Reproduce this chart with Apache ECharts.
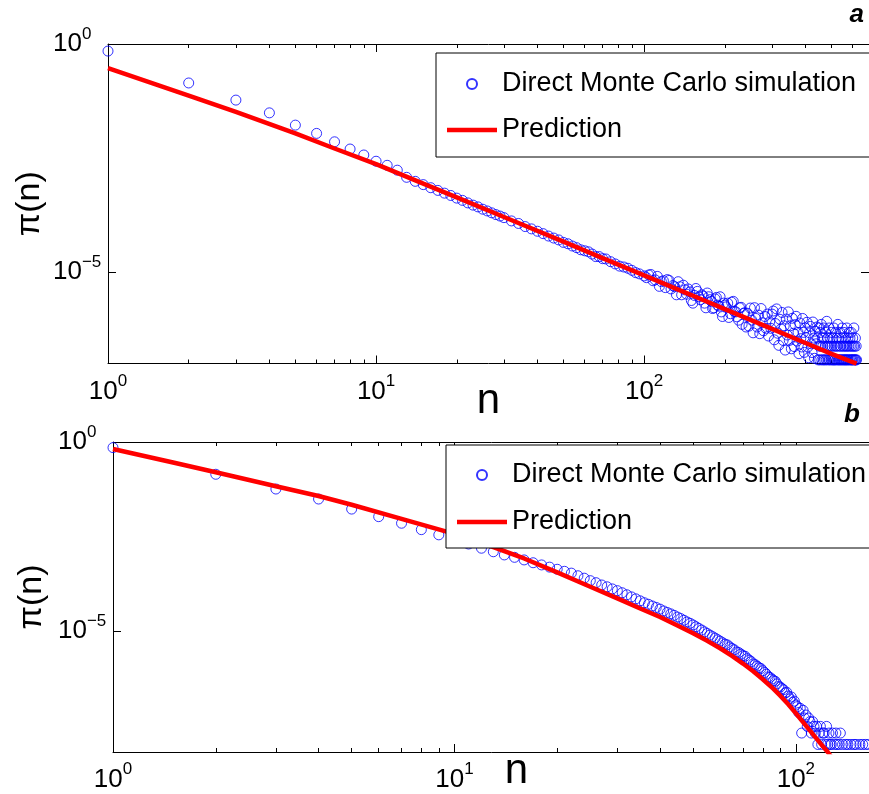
<!DOCTYPE html>
<html>
<head>
<meta charset="utf-8">
<script src="https://cdn.jsdelivr.net/npm/echarts@6/dist/echarts.min.js"></script>
<style>
html, body { margin: 0; background: #fff; }
#main { width: 869px; height: 794px; }
</style>
</head>
<body>
<div id="main"></div>
<script>
// panel a: [n, pi(n)]
var simA = [
  [1,0.70],[2,0.14],[3,0.059],[4,0.031],[5,0.0167],[6,0.011],[7,0.0072],[8,0.0050],[9,0.0037],[10,0.0027],
  [11,0.0022],[12,0.00172],[13,0.0012],[14,9.8e-4],[15,8.3e-4],[16,7.1e-4],[17,6.2e-4],[18,5.4e-4],[19,4.8e-4],[20,4.2e-4],
  [21,3.75e-4],[22,3.3e-4],[23,2.95e-4],[24,2.7e-4],[25,2.4e-4],[26,2.2e-4],[27,2.0e-4],[28,1.83e-4],[29,1.7e-4],[30,1.57e-4],
  [32,1.33e-4],[34,1.17e-4],[36,1.0e-4],[38,8.9e-5],[40,7.9e-5],[42,7.0e-5],[44,6.2e-5],[46,5.6e-5],[48,5.1e-5],[50,4.5e-5],
  [52,4.2e-5],[54,3.75e-5],[56,3.45e-5],[58,3.1e-5],[60,2.95e-5],[62,2.8e-5],[64,2.5e-5],[66,2.2e-5],[68,2.2e-5],[70,1.98e-5],
  [72,1.95e-5],[75,1.7e-5],[78,1.52e-5],[81,1.36e-5],[84,1.3e-5],[87,1.22e-5],[90,1.1e-5],[93,9.8e-6],[96,9.2e-6],[100,8.3e-6],
  [104,8.7e-6],[108,6.5e-6],[112,8.1e-6],[116,6.2e-6],[120,4.6e-6],[124,6.6e-6],[128,5.1e-6],[132,3.2e-6],[136,4.8e-6],[140,5.2e-6],
  [144,3.3e-6],[148,3.7e-6],[152,2.1e-6],[156,4.4e-6],[160,2.9e-6],[164,3.2e-6],[168,2.1e-6],[172,3.5e-6],[176,2.5e-6],[180,1.6e-6],
  [184,2.6e-6],[188,1.9e-6],[192,2.9e-6],[196,1.07e-6],[200,1.9e-6],[205,2.1e-6],[210,1.23e-6],[215,2.3e-6],[220,1.35e-6],[225,8.9e-7],
  [230,1.7e-6],[235,1.26e-6],[240,6.3e-7],
  [102,7.6e-6],[106,8.9e-6],[110,6.8e-6],[114,4.9e-6],[118,6.5e-6],[122,6.9e-6],[126,4.3e-6],[130,4.8e-6],[134,6.2e-6],[138,3.2e-6],
  [142,4.1e-6],[146,4.3e-6],[150,2.4e-6],[154,3.1e-6],[158,3.8e-6],[162,2.5e-6],[166,3.0e-6],[170,1.66e-6],[174,2.9e-6],[178,2.3e-6],
  [182,1.66e-6],[186,2.8e-6],[190,1.8e-6],[194,1.35e-6],[198,2.1e-6],[202,1.74e-6],[207,1.02e-6],[212,2.2e-6],[217,1.38e-6],[222,1.05e-6],
  [227,1.66e-6],[232,7.2e-7],[237,1.29e-6],
  [243,1.26e-6],[246,6.6e-7],[249,1.64e-6],[252,8.9e-7],[255,4.7e-7],[258,1.67e-6],[261,9.7e-7],[264,6.3e-7],[267,1.15e-6],[270,4.5e-7],
  [273,1.6e-6],[276,7.8e-7],[279,5.2e-7],[282,1.07e-6],[285,5.9e-7],[288,1.21e-6],[291,4.0e-7],[294,8.2e-7],[297,5.9e-7],[300,1.21e-6],
  [303,1.41e-6],[306,3.3e-7],[309,7.5e-7],[312,1.57e-6],[315,4.6e-7],[318,2.5e-7],[321,9.3e-7],[324,5.7e-7],[327,1.31e-6],[330,3.2e-7],
  [333,6.7e-7],[336,1.97e-7],[339,9.4e-7],[342,4.2e-7],[345,1.35e-6],[348,3.2e-7],[351,6.7e-7],[354,2.1e-7],[357,9.8e-7],[360,4.6e-7],
  [363,2.35e-7],[366,7.1e-7],[369,1.08e-6],[372,3.1e-7],[375,4.8e-7],[378,1.64e-7],[381,7.7e-7],[384,3.5e-7],[387,2.3e-7],[390,9.7e-7],
  [393,4.8e-7],[396,1.75e-7],[399,6.0e-7],[402,3.7e-7],[405,8.0e-7],[408,2.3e-7],[411,1.34e-7],[414,4.7e-7],[417,6.5e-7],[420,2.7e-7],
  [423,1.74e-7],[426,8.1e-7],[429,3.6e-7],[432,1.3e-7],[435,5.1e-7],[438,2.7e-7],[441,6.3e-7],
  [444,3.6e-7],[446,1.2e-7],[448,6.0e-7],[450,2.4e-7],[452,1.2e-7],[454,4.8e-7],[456,2.4e-7],[458,7.2e-7],[460,1.2e-7],[462,3.6e-7],
  [464,2.4e-7],[466,1.2e-7],[468,6.0e-7],[470,3.6e-7],[472,1.2e-7],[474,2.4e-7],[476,4.8e-7],[478,1.2e-7],[480,8.4e-7],[482,2.4e-7],
  [484,3.6e-7],[486,1.2e-7],[488,2.4e-7],[490,6.0e-7],[492,1.2e-7],[494,3.6e-7],[496,2.4e-7],[498,1.2e-7],[500,4.8e-7],
  [502,2.4e-7],[504,1.2e-7],[506,3.6e-7],[508,1.2e-7],[510,6.0e-7],[512,2.4e-7],[514,1.2e-7],[516,1.2e-7],[518,4.8e-7],[520,2.4e-7],
  [522,3.6e-7],[524,1.2e-7],[526,2.4e-7],[528,7.2e-7],[530,1.2e-7],[532,3.6e-7],[534,1.2e-7],[536,2.4e-7],[538,4.8e-7],[540,1.2e-7],
  [542,2.4e-7],[544,1.2e-7],[546,3.6e-7],[548,6.0e-7],[550,1.2e-7],[552,2.4e-7],[554,1.2e-7],[556,4.8e-7],[558,2.4e-7],[560,1.2e-7],
  [562,3.6e-7],[564,1.2e-7],[566,2.4e-7],[568,1.2e-7],[570,6.0e-7],[572,2.4e-7],[574,1.2e-7],[576,3.6e-7],[578,1.2e-7],[580,2.4e-7],
  [582,4.8e-7],[584,1.2e-7],[586,3.6e-7],[588,2.4e-7],[590,1.2e-7],[592,4.8e-7],[594,1.2e-7],[596,2.4e-7],[598,1.2e-7],[600,3.6e-7],
  [602,1.2e-7],[604,2.4e-7],[606,6.0e-7],[608,1.2e-7],[610,2.4e-7],[612,1.2e-7],[614,3.6e-7],[616,1.2e-7],[618,2.4e-7],[620,1.2e-7]
];
var predA = [
  [1,0.295],[2,0.0741],[3,0.0324],[5,0.011],[7,5.13e-3],[10,2.34e-3],[15,8.7e-4],[20,4.37e-4],[30,1.62e-4],
  [50,4.68e-5],[70,2.04e-5],[100,8.5e-6],[150,3.16e-6],[200,1.55e-6],[300,5.75e-7],[400,2.82e-7],[500,1.62e-7],[620,9.9e-8]
];

// panel b
var simB = [
  [1,0.71],[2,0.14],[3,0.057],[4,0.031],[5,0.0168],[6,0.0106],[7,0.0071],[8,0.0048],[9,0.0035],[10,0.0026],
  [11,0.002],[12,0.00155],[13,0.00125],[14,0.00103],[15,8.9e-4],[16,7.6e-4],[17,6.4e-4],[18,5.6e-4],[19,4.9e-4],[20,4.3e-4],
  [21,3.8e-4],[22,3.4e-4],[23,2.9e-4],[24,2.5e-4],[25,2.15e-4],[26,1.9e-4],[27,1.65e-4],[28,1.48e-4],[29,1.3e-4],[30,1.17e-4],
  [31,1.03e-4],[32,9.1e-5],[33,8.0e-5],[34,7.1e-5],[35,6.3e-5],[36,5.6e-5],[37,5.1e-5],[38,4.6e-5],[39,4.2e-5],[40,3.8e-5],
  [41,3.4e-5],[42,3.1e-5],[43,2.85e-5],[44,2.6e-5],[45,2.35e-5],[46,2.14e-5],[47,1.93e-5],[48,1.74e-5],[49,1.6e-5],[50,1.45e-5],
  [51,1.3e-5],[52,1.17e-5],[53,1.06e-5],[54,9.5e-6],[55,8.6e-6],[56,7.8e-6],[57,7.1e-6],[58,6.5e-6],[59,5.9e-6],[60,5.4e-6],
  [61,4.9e-6],[62,4.5e-6],[63,4.3e-6],[64,3.8e-6],[65,3.45e-6],[66,3.2e-6],[67,2.8e-6],[68,2.7e-6],[69,2.45e-6],[70,2.24e-6],
  [71,2.15e-6],[72,1.86e-6],[73,1.7e-6],[74,1.55e-6],[75,1.35e-6],[76,1.29e-6],[77,1.18e-6],[78,1.07e-6],[79,1.02e-6],[80,8.9e-7],
  [81,8.0e-7],[82,7.2e-7],[83,6.1e-7],[84,5.9e-7],[85,5.4e-7],[86,4.9e-7],[87,4.7e-7],[88,4.0e-7],[89,3.4e-7],[90,3.3e-7],
  [91,3.0e-7],[92,2.8e-7],[93,2.3e-7],[94,2.4e-7],[95,1.9e-7],[96,1.6e-7],[97,1.8e-7],[98,1.3e-7],[99,1.4e-7],[100,1.1e-7],
  [101,1.0e-7],[102,7e-8],[103,9e-8],[104,2e-8],[105,8e-8],[106,5e-8],[107,6e-8],[108,3e-8],[109,5e-8],[110,4e-8],
  [111,2e-8],[112,4e-8],[113,3e-8],[114,2e-8],[115,3e-8],[116,1e-8],[117,2e-8],[118,3e-8],[119,1e-8],[120,2e-8],
  [121,2e-8],[122,1e-8],[123,3e-8],[124,1e-8],[125,2e-8],[126,1e-8],[127,1e-8],[128,2e-8],[130,1e-8],[131,2e-8],
  [132,1e-8],[134,1e-8],[135,2e-8],[137,1e-8],[140,1e-8],[142,1e-8],[145,1e-8],[148,1e-8],[150,1e-8],[154,1e-8],
  [157,1e-8],[160,1e-8],[163,1e-8]
];
var predB = [
  [1,0.653],[1.5,0.288],[2,0.158],[3,0.0676],[4,0.0372],[5,0.0219],[7,9.3e-3],[10,3.7e-3],[13,1.66e-3],[16,8.3e-4],
  [20,3.55e-4],[25,1.48e-4],[30,7.3e-5],[35,3.95e-5],[40,2.35e-5],[45,1.4e-5],[50,8.7e-6],[55,5.5e-6],[60,3.5e-6],[65,2.2e-6],
  [70,1.38e-6],[75,8.6e-7],[80,5.3e-7],[86,2.95e-7],[90,1.95e-7],[95,1.15e-7],[100,6.7e-8],[106,3.5e-8],[112,1.9e-8],[118,1.07e-8],
  [124,6.3e-9],[130,3.5e-9]
];

var majorTicks = [1, 10, 100];
var minorTicksA = [2,3,4,5,6,7,8,9,20,30,40,50,60,70,80,90,200,300,400,500,600];
var minorTicksB = [2,3,4,5,6,7,8,9,20,30,40,50,60,70,80,90,200];
var yLabelTicks = [1, 1e-5];
var yTicks = [1e-5];

var FONT = '"Liberation Sans", Arial, Helvetica, sans-serif';
var rich = {
  b: { fontSize: 26, fontFamily: FONT, color: '#000' },
  s: { fontSize: 17, fontFamily: FONT, color: '#000', padding: [0, 0, 20, 0] }
};
function powLabel(v) {
  var e = Math.round(Math.log10(v));
  return '{b|10}{s|' + (e < 0 ? '\u2212' + (-e) : e) + '}';
}
var black = { color: '#000', width: 1 };

function makeX(grid, max, minor, nameGap, labelMargin) {
  function ax(extra) {
    return Object.assign({
      type: 'log', logBase: 10, gridIndex: grid, min: 1, max: max,
      splitLine: { show: false }, axisLine: { show: true, lineStyle: black },
      axisLabel: { show: false }
    }, extra);
  }
  return [
    ax({ position: 'bottom', name: 'n', nameLocation: 'middle', nameGap: nameGap, nameMoveOverlap: false,
      nameTextStyle: { fontSize: 42, fontFamily: FONT, color: '#000' },
      axisTick: { show: true, inside: true, length: 8, lineStyle: black, customValues: majorTicks },
      axisLabel: { show: true, customValues: majorTicks, formatter: powLabel, rich: rich, margin: labelMargin } }),
    ax({ position: 'bottom', axisLine: { show: false },
      axisTick: { show: true, inside: true, length: 4, lineStyle: black, customValues: minor } }),
    ax({ position: 'top',
      axisTick: { show: true, inside: true, length: 8, lineStyle: black, customValues: majorTicks } }),
    ax({ position: 'top', axisLine: { show: false },
      axisTick: { show: true, inside: true, length: 4, lineStyle: black, customValues: minor } })
  ];
}
function makeY(grid, min, nameGap) {
  var base = { type: 'log', logBase: 10, gridIndex: grid, min: min, max: 1, splitLine: { show: false },
    axisLine: { show: true, lineStyle: black },
    axisTick: { show: true, inside: true, length: 8, lineStyle: black, customValues: yTicks } };
  return [
    Object.assign({}, base, { position: 'left', name: '\u03c0(n)', nameLocation: 'middle', nameGap: nameGap,
      nameMoveOverlap: false,
      nameTextStyle: { fontSize: 34, fontFamily: FONT, color: '#000' },
      axisLabel: { show: true, customValues: yLabelTicks, formatter: powLabel, rich: rich, align: 'left', margin: 55 } }),
    Object.assign({}, base, { position: 'right', axisLabel: { show: false } })
  ];
}

var legendBase = {
  orient: 'vertical',
  data: [
    { name: 'Direct Monte Carlo simulation' },
    { name: 'Prediction', icon: 'path://M0,0H50V4.5H0Z' }
  ],
  itemWidth: 50, itemHeight: 10, selectedMode: false,
  backgroundColor: '#fff', borderColor: '#000', borderWidth: 1,
  textStyle: { fontSize: 27, fontFamily: FONT, color: '#000', lineHeight: 30 }
};

function simSeries(data, xi, yi) {
  return { type: 'scatter', name: 'Direct Monte Carlo simulation', xAxisIndex: xi, yAxisIndex: yi, data: data,
    symbol: 'circle', symbolSize: 10, silent: true,
    itemStyle: { color: 'rgba(0,0,0,0)', borderColor: '#0000ff', borderWidth: 1 } };
}
function predSeries(data, xi, yi) {
  return { type: 'line', name: 'Prediction', xAxisIndex: xi, yAxisIndex: yi, data: data,
    symbol: 'none', showSymbol: false, silent: true,
    lineStyle: { color: '#ff0000', width: 4.5 }, itemStyle: { color: '#ff0000' } };
}

var chart = echarts.init(document.getElementById('main'));
chart.setOption({
  animation: false,
  backgroundColor: '#fff',
  title: [
    { text: 'a', right: 5, top: 2, padding: 0,
      textStyle: { fontSize: 26, fontWeight: 'bold', fontStyle: 'italic', fontFamily: FONT, color: '#000' } },
    { text: 'b', right: 9, top: 402, padding: 0,
      textStyle: { fontSize: 26, fontWeight: 'bold', fontStyle: 'italic', fontFamily: FONT, color: '#000' } }
  ],
  legend: [
    Object.assign({}, legendBase, { left: 436, top: 53, itemGap: 16, padding: [16, 30, 12, 11] }),
    Object.assign({}, legendBase, { left: 446, top: 445, itemGap: 17, padding: [15, 30, 11, 11] })
  ],
  grid: [
    { left: 108, top: 44, width: 761, height: 319.5, outerBoundsMode: 'none' },
    { left: 113, top: 442, width: 807, height: 310, outerBoundsMode: 'none' }
  ],
  xAxis: makeX(0, 690, minorTicksA, 17, 9.5).concat(makeX(1, 231, minorTicksB, -2, 9)),
  yAxis: makeY(0, 1e-7, 61).concat(makeY(1, 6.31e-9, 64)),
  series: [
    simSeries(simA, 0, 0),
    predSeries(predA, 0, 0),
    simSeries(simB, 4, 2),
    predSeries(predB, 4, 2)
  ]
});
</script>
</body>
</html>
